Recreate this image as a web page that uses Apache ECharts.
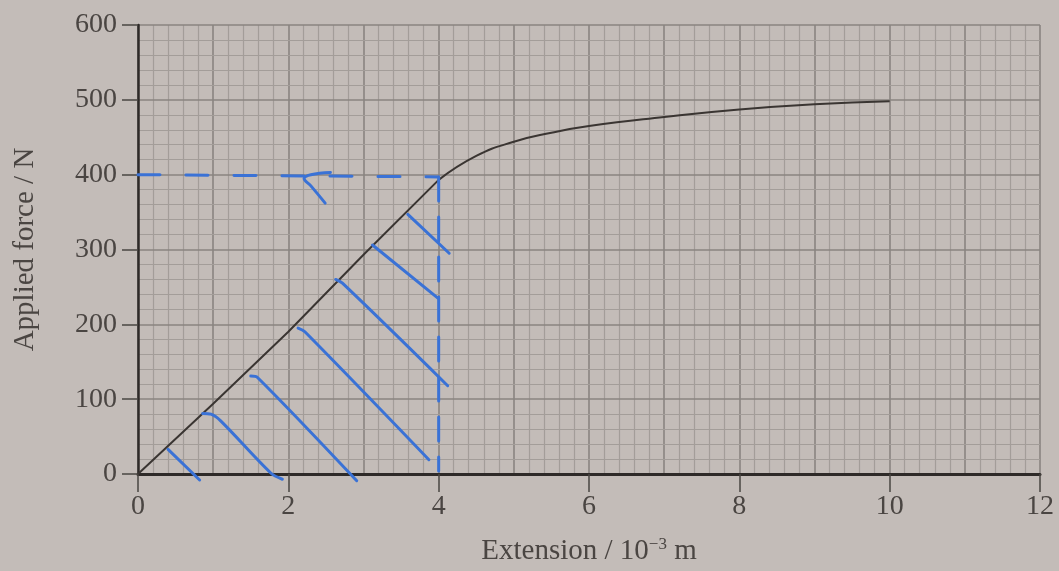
<!DOCTYPE html>
<html>
<head>
<meta charset="utf-8">
<script src="https://cdn.jsdelivr.net/npm/echarts@6/dist/echarts.min.js"></script>
<style>
html,body{margin:0;padding:0;background:#c3bcb8;}
#chart{width:1059px;height:571px;}
</style>
</head>
<body>
<div id="chart"></div>
<script>
// Main curve: extension (10^-3 m) vs applied force (N)
const extension = [0, 1, 2, 3, 4, 4.5, 5, 5.5, 6, 7, 8, 9, 10];
const force     = [0, 94, 190, 293, 393, 425, 444, 456, 465, 477, 487, 494, 498];

// X tick labels and Y tick labels
const xTicks = [0, 2, 4, 6, 8, 10, 12];
const yTicks = [0, 100, 200, 300, 400, 500, 600];

// Hand-drawn blue annotations
const dashH = [[0, 400], [4, 397]];
const dashV = [[4, 397], [4, 4]];
const arrowHead = [[2.56, 403], [2.3, 400], [2.21, 395], [2.3, 385], [2.49, 362]];
const hatch1 = [[0.40, 33], [0.82, -8]];
const hatch2 = [[0.86, 81], [0.97, 80], [1.10, 71], [1.77, 1], [1.92, -7]];
const hatch3 = [[1.50, 131], [1.59, 129], [2.91, -9]];
const hatch4 = [[2.13, 195], [2.22, 190], [3.87, 19]];
const hatch5 = [[2.63, 260], [2.72, 255], [4.12, 118]];
const hatch6 = [[3.12, 306], [3.99, 235]];
const hatch7 = [[3.59, 347], [4.14, 295]];

const pairs = (xs, ys) => xs.map((x, i) => [x, ys[i]]);
const allPts = pairs(extension, force);
const linearPart = allPts.filter(p => p[0] <= 4);
const plasticPart = allPts.filter(p => p[0] >= 4);

const FONT = 'Liberation Serif';
const TEXT = '#4a4542';
const BLUE = '#3a72d6';

const hatchSeries = [hatch1, hatch2, hatch3, hatch4, hatch5, hatch6, hatch7].map(h => ({
  type: 'line', data: h, xAxisIndex: 0, yAxisIndex: 0, showSymbol: false, symbol: 'none',
  smooth: 0.3, clip: false, z: 5, silent: true,
  lineStyle: {color: BLUE, width: 3, cap: 'round'}
}));

const chart = echarts.init(document.getElementById('chart'));
chart.setOption({
  backgroundColor: '#c3bcb8',
  animation: false,
  grid: {left: 138, right: 19, top: 25, bottom: 91},
  xAxis: [
    {
      type: 'value', min: 0, max: 12, interval: 2, position: 'bottom',
      name: 'Extension / 10{sup|−3} m', nameLocation: 'middle', nameGap: 62,
      nameTextStyle: {fontFamily: FONT, fontSize: 29, color: TEXT,
        rich: {sup: {fontFamily: FONT, fontSize: 17, color: TEXT, verticalAlign: 'top', padding: [0, 0, 14, 0]}}},
      axisLine: {show: true, onZero: false, lineStyle: {color: '#2e2a28', width: 3}},
      axisTick: {show: true, length: 18, lineStyle: {color: '#4a4542', width: 1.5}},
      axisLabel: {fontFamily: FONT, fontSize: 28, color: TEXT, margin: 19,
        formatter: v => xTicks.includes(v) ? String(v) : ''},
      splitLine: {show: false}, z: 3
    },
    {
      type: 'value', min: 0, max: 12, interval: 1, position: 'bottom',
      axisLine: {show: false}, axisTick: {show: false}, axisLabel: {show: false},
      splitLine: {show: true, lineStyle: {color: '#8a8480', width: 1.6}},
      minorTick: {show: false, splitNumber: 5},
      minorSplitLine: {show: true, lineStyle: {color: '#a39d99', width: 1.2}}
    }
  ],
  yAxis: [
    {
      type: 'value', min: 0, max: 600, interval: 100,
      name: 'Applied force / N', nameLocation: 'middle', nameGap: 98, nameRotate: 90,
      nameTextStyle: {fontFamily: FONT, fontSize: 29, color: TEXT},
      axisLine: {show: true, lineStyle: {color: '#2e2a28', width: 2.5}},
      axisTick: {show: true, length: 16, lineStyle: {color: '#4a4542', width: 1.5}},
      axisLabel: {fontFamily: FONT, fontSize: 28, color: TEXT, margin: 21,
        formatter: v => yTicks.includes(v) ? String(v) : ''},
      splitLine: {show: true, lineStyle: {color: '#8a8480', width: 1.6}},
      minorTick: {show: false, splitNumber: 5},
      minorSplitLine: {show: true, lineStyle: {color: '#a39d99', width: 1.2}},
      z: 3
    }
  ],
  series: [
    {
      type: 'line', data: linearPart, xAxisIndex: 0, yAxisIndex: 0,
      showSymbol: false, symbol: 'none', smooth: false, z: 4,
      lineStyle: {color: '#3a3532', width: 2}
    },
    {
      type: 'line', data: plasticPart, xAxisIndex: 0, yAxisIndex: 0,
      showSymbol: false, symbol: 'none', smooth: 0.5, z: 4,
      lineStyle: {color: '#3a3532', width: 2}
    },
    {
      type: 'line', data: dashH, xAxisIndex: 0, yAxisIndex: 0, showSymbol: false, symbol: 'none',
      z: 5, lineStyle: {color: BLUE, width: 3, type: [22, 26], cap: 'round'}
    },
    {
      type: 'line', data: dashV, xAxisIndex: 0, yAxisIndex: 0, showSymbol: false, symbol: 'none',
      z: 5, lineStyle: {color: BLUE, width: 3, type: [24, 16], cap: 'round'}
    },
    {
      type: 'line', data: arrowHead, xAxisIndex: 0, yAxisIndex: 0, showSymbol: false, symbol: 'none',
      smooth: 0.4, z: 5, lineStyle: {color: BLUE, width: 3, cap: 'round'}
    }
  ].concat(hatchSeries)
});
</script>
</body>
</html>
